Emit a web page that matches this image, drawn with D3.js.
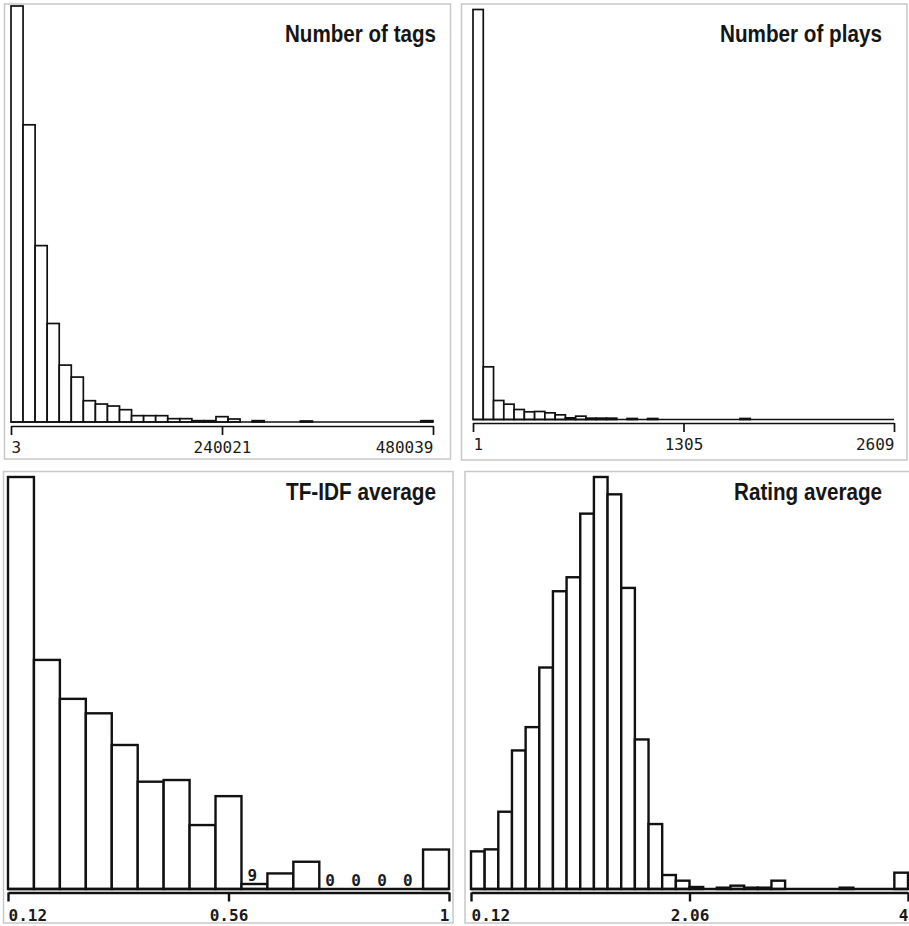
<!DOCTYPE html>
<html>
<head>
<meta charset="utf-8">
<script src="https://cdnjs.cloudflare.com/ajax/libs/d3/7.8.5/d3.min.js"></script>
<style>
body { margin: 0; background: #fff; }
svg { display: block; }
</style>
</head>
<body>
<div id="chart"></div>
<script>
// bin counts (estimates)
var tags_counts = [1250, 893, 530, 296, 171, 135, 64, 54, 48, 37, 19, 19, 19, 10, 10, 4, 4, 16, 9, 0,
                   4, 0, 0, 0, 3, 0, 0, 0, 0, 0, 0, 0, 0, 0, 4];
var plays_counts = [1230, 158, 57, 46, 30, 23, 24, 20, 14, 5, 10, 4, 4, 4, 0, 3, 0, 3, 0, 0,
                    0, 0, 0, 0, 0, 0, 3, 0, 0, 0, 0, 0, 0, 0, 0, 0, 0, 0, 0, 0, 0];
var tfidf_counts = [741, 412, 342, 316, 259, 193, 196, 115, 167, 9, 28, 49, 0, 0, 0, 0, 71];
var rating_counts = [113, 119, 232, 416, 486, 665, 894, 936, 1127, 1237, 1185, 904, 449, 195, 42, 25,
                     6, 0, 4, 10, 4, 4, 25, 0, 0, 0, 0, 4, 0, 0, 0, 49];

var titles = ["Number of tags", "Number of plays", "TF-IDF average", "Rating average"];
var x_domains = [[3, 480039], [1, 2609], [0.12, 1], [0.12, 4]];

var width = 909,
    height = 926;

// layout of the four boxes
var panels = [
  {counts: tags_counts, title: titles[0], domain: x_domains[0],
   frame: [4.5, 4, 446, 455], x0: 11, x1: 433, base: 422, top: 6, axisY: 426,
   titleX: 436, titleY: 42, titleW: 151, stroke: 1.7, bottomRow: false},
  {counts: plays_counts, title: titles[1], domain: x_domains[1],
   frame: [461.5, 4, 445.5, 456], x0: 473, x1: 894, base: 419.5, top: 9.5, axisY: 423,
   titleX: 882, titleY: 42, titleW: 162, stroke: 1.7, bottomRow: false},
  {counts: tfidf_counts, title: titles[2], domain: x_domains[2],
   frame: [3.5, 471.5, 449.5, 451.5], x0: 8, x1: 449, base: 889, top: 477, axisY: 892.5,
   titleX: 436, titleY: 500, titleW: 150, stroke: 2.4, bottomRow: true, labels: true},
  {counts: rating_counts, title: titles[3], domain: x_domains[3],
   frame: [465, 471.5, 460, 451.5], x0: 471, x1: 908, base: 889, top: 477, axisY: 892.5,
   titleX: 882, titleY: 500, titleW: 148, stroke: 2.4, bottomRow: true}
];

var svg = d3.select("#chart").append("svg")
    .attr("width", width)
    .attr("height", height);

panels.forEach(function(p) { draw_panel(p); });

function fmt(v) {
  return String(+v.toFixed(2));
}

function draw_panel(p) {
  var g = svg.append("g");

  g.append("rect")
    .attr("x", p.frame[0])
    .attr("y", p.frame[1])
    .attr("width", p.frame[2])
    .attr("height", p.frame[3])
    .attr("fill", "none")
    .attr("stroke", "#c8c8c8")
    .attr("stroke-width", 1.5);

  var x = d3.scaleLinear().domain(p.domain).range([p.x0, p.x1]);
  var y = d3.scaleLinear().domain([0, d3.max(p.counts)]).range([p.base, p.top]);
  var step = (p.domain[1] - p.domain[0]) / p.counts.length;

  var bins = p.counts.map(function(c, i) {
    return {count: c, lo: p.domain[0] + i * step, hi: p.domain[0] + (i + 1) * step};
  });

  g.selectAll("rect.bar").data(bins.filter(function(d) { return d.count > 0; }))
    .enter().append("rect")
      .attr("class", "bar")
      .attr("x", function(d) { return x(d.lo); })
      .attr("width", function(d) { return x(d.hi) - x(d.lo); })
      .attr("y", function(d) { return y(d.count); })
      .attr("height", function(d) { return y(0) - y(d.count); })
      .attr("fill", "white")
      .attr("stroke", "#111")
      .attr("stroke-width", p.stroke);

  // base line under the bars
  g.append("line")
    .attr("x1", x(p.domain[0]))
    .attr("x2", x(p.domain[1]))
    .attr("y1", y(0))
    .attr("y2", y(0))
    .attr("stroke", "#111")
    .attr("stroke-width", p.stroke);

  // small counts get a number (only the tf-idf box does this)
  if (p.labels) {
    g.selectAll("text.count").data(bins.filter(function(d) { return d.count < 10; }))
      .enter().append("text")
        .attr("class", "count")
        .attr("x", function(d) { return x(d.lo) + 6; })
        .attr("y", function(d) { return y(d.count) - 3; })
        .text(function(d) { return d.count; })
        .attr("font-family", "DejaVu Sans Mono, monospace")
        .attr("font-weight", "bold")
        .attr("font-size", "16px")
        .attr("fill", "#1a1a1a");
  }

  var mid = (p.domain[0] + p.domain[1]) / 2;
  var axis = d3.axisBottom(x)
    .tickValues([p.domain[0], mid, p.domain[1]])
    .tickSize(9)
    .tickSizeOuter(0)
    .tickFormat(fmt);

  var ax = g.append("g")
    .attr("transform", "translate(0," + p.axisY + ")")
    .call(axis);

  ax.select(".domain").attr("stroke", "#111").attr("stroke-width", p.stroke);
  ax.selectAll(".tick line").attr("stroke", "#111").attr("stroke-width", p.stroke);
  ax.selectAll(".tick text")
    .attr("y", p.bottomRow ? 17 : 16)
    .attr("dy", "0.71em")
    .attr("fill", "#1a1a1a")
    .attr("font-family", "DejaVu Sans Mono, monospace")
    .attr("font-size", "16px")
    .attr("font-weight", p.bottomRow ? "bold" : "normal")
    .attr("text-anchor", function(d, i) { return i == 0 ? "start" : (i == 2 ? "end" : "middle"); });

  g.append("text")
    .attr("x", p.titleX)
    .attr("y", p.titleY)
    .attr("text-anchor", "end")
    .attr("textLength", p.titleW)
    .attr("lengthAdjust", "spacingAndGlyphs")
    .attr("font-family", "Liberation Sans, Arial, sans-serif")
    .attr("font-weight", "bold")
    .attr("font-size", "24px")
    .attr("fill", "#151515")
    .text(p.title);
}
</script>
</body>
</html>
